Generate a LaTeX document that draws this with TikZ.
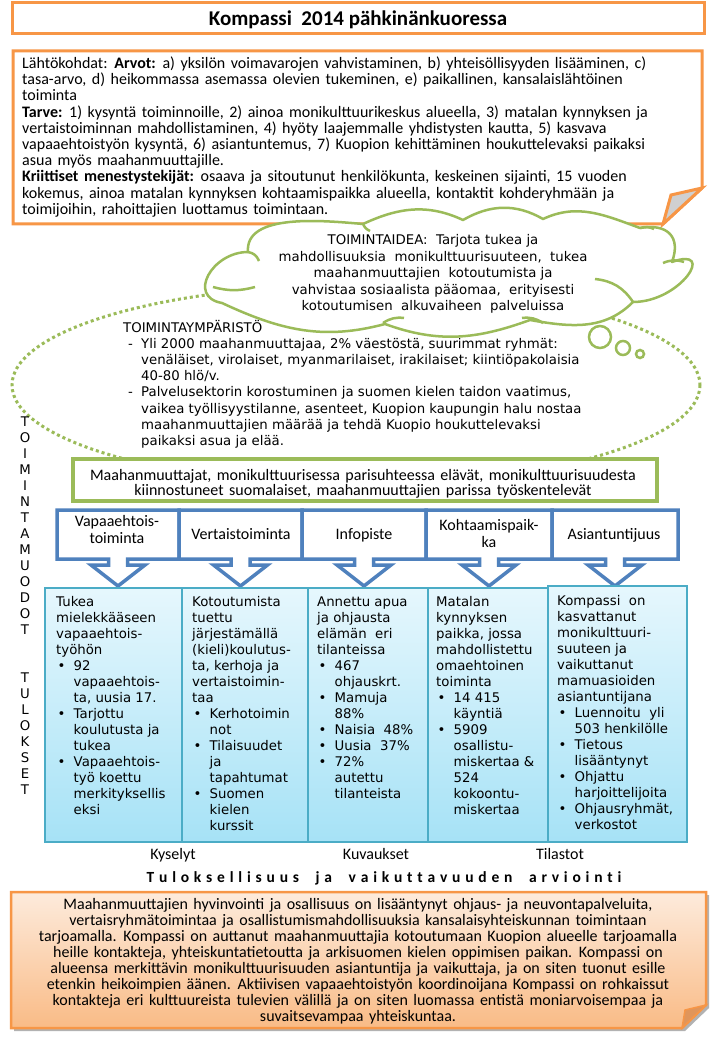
\documentclass[tikz,border=0pt]{standalone}
\usepackage{fontspec}
\usetikzlibrary{calc}
\setmainfont{Carlito}
\newfontfamily\verd{DejaVu Sans}
\newfontfamily\calfont{Carlito}
\definecolor{korange}{HTML}{F79646}
\definecolor{kgreen}{HTML}{9BBB59}
\definecolor{kblue}{HTML}{4F81BD}
\definecolor{kcyan}{HTML}{4BACC6}
\definecolor{cyantop}{HTML}{E6F7FD}
\definecolor{cyanbot}{HTML}{A6E2F6}
\definecolor{peachtop}{HTML}{FDEBDC}
\definecolor{peachbot}{HTML}{F9BB86}
\definecolor{foldor}{HTML}{E0955A}
\definecolor{foldgray}{HTML}{D0D0D0}
\newcommand\bl{\makebox[17.5pt][l]{\hspace{1.5pt}•}}
\newcommand\ii{\hspace*{17.5pt}}
\newcommand\dl{\makebox[18pt][l]{\hspace{5pt}-}}
\newcommand\widesp{\spaceskip 5.5pt plus 1pt minus 1pt\relax}
\newcommand\wg{\hspace{7pt}}
\def\spr#1{\ifx#1\relax\else#1\hspace{4.8pt}\expandafter\spr\fi}
\tikzset{
  calt/.style={font=\calfont\fontsize{16}{16.2}\selectfont\widesp, inner sep=0},
  verdt/.style={font=\verd\fontsize{13.3}{16}\selectfont, inner sep=0},
  obox/.style={draw=korange, line width=3, fill=white},
  hdr/.style={draw=kblue, line width=3.5, fill=white, line join=miter},
  lowbox/.style={draw=kcyan, line width=1.2, top color=cyantop, bottom color=cyanbot},
  cloudline/.style={draw=kgreen, line width=2.5},
}
\begin{document}
\begin{tikzpicture}[x=1pt,y=-1pt]
\useasboundingbox[fill=white] (0,0) rectangle (720,1040);

% title
\draw[obox] (12,3) rectangle (704,34);
\node[font=\calfont\bfseries\fontsize{21}{21}\selectfont, anchor=base, inner sep=0] (title) at (358,25.5) {Kompassi\ \ 2014 pähkinänkuoressa};

% top box with folded corner (base anchor = last line)
\draw[obox, line join=miter] (13,51) -- (702,51) -- (702,188) -- (663,224) -- (13,224) -- cycle;
\draw[draw=korange, line width=3, fill=foldgray, line join=miter] (702,188) -- (671,195) -- (663,224) -- cycle;
\node[calt, align=left, anchor=base west] (topt) at (22,214.3) {%
Lähtökohdat: \textbf{Arvot:} a) yksilön voimavarojen vahvistaminen, b) yhteisöllisyyden lisääminen, c)\\
tasa-arvo, d) heikommassa asemassa olevien tukeminen, e) paikallinen, kansalaislähtöinen\\
toiminta\\
\textbf{Tarve:} 1) kysyntä toiminnoille, 2) ainoa monikulttuurikeskus alueella, 3) matalan kynnyksen ja\\
vertaistoiminnan mahdollistaminen, 4) hyöty laajemmalle yhdistysten kautta, 5) kasvava\\
vapaaehtoistyön kysyntä, 6) asiantuntemus, 7) Kuopion kehittäminen houkuttelevaksi paikaksi\\
asua myös maahanmuuttajille.\\
\textbf{Kriittiset menestystekijät:} osaava ja sitoutunut henkilökunta, keskeinen sijainti, 15 vuoden\\
kokemus, ainoa matalan kynnyksen kohtaamispaikka alueella, kontaktit kohderyhmään ja\\
toimijoihin, rahoittajien luottamus toimintaan.};

% dotted environment ellipse
\draw[kgreen, line width=3, dash pattern=on 3pt off 3pt] (356,385) ellipse [x radius=344, y radius=100];

% environment text
\node[verdt, font=\verd\fontsize{13.3}{16.2}\selectfont, align=left, anchor=base west] (env) at (123,445.4) {%
TOIMINTAYMPÄRISTÖ\\
\dl Yli 2000 maahanmuuttajaa, 2\% väestöstä, suurimmat ryhmät:\\
\hspace*{18pt}venäläiset, virolaiset, myanmarilaiset, irakilaiset; kiintiöpakolaisia\\
\hspace*{18pt}40-80 hlö/v.\\
\dl Palvelusektorin korostuminen ja suomen kielen taidon vaatimus,\\
\hspace*{18pt}vaikea työllisyystilanne, asenteet, Kuopion kaupungin halu nostaa\\
\hspace*{18pt}maahanmuuttajien määrää ja tehdä Kuopio houkuttelevaksi\\
\hspace*{18pt}paikaksi asua ja elää.};

% cloud
\coordinate (cA) at (248,252);
\coordinate (cB) at (363,224);
\coordinate (cC) at (463,220);
\coordinate (cD) at (543,219);
\coordinate (cE) at (640,228);
\coordinate (cF) at (672,262);
\coordinate (cG) at (633,302);
\coordinate (cH) at (530,320);
\coordinate (cI) at (385,324);
\coordinate (cJ) at (222,303);
\path[cloudline, fill=white, line join=round]
  (cA) to[out=95, in=175, looseness=0.85] (cB)
       to[out=25, in=155] (cC)
       to[out=30, in=150] (cD)
       to[out=25, in=160] (cE)
       to[out=10, in=70, looseness=1.5] (cF)
       to[out=20, in=0, looseness=2.2] (cG)
       to[out=-135, in=-10] (cH)
       to[out=-160, in=-20] (cI)
       to[out=-165, in=-25] (cJ)
       to[out=170, in=180, looseness=1.6] (cA) -- cycle;
% inner arcs of the cloud
\draw[cloudline] (cA) to[bend left=30] (259,261);
\draw[cloudline] (213,287) to[bend right=15] (255,287);
\draw[cloudline] (595,279) to[bend left=25] (cG);
\draw[cloudline] (663,263) to[bend left=20] (684,262);
\draw[cloudline] (522,318) to[bend left=20] (543,323);
\draw[cloudline] (383,323) to[bend left=20] (404,318);
\draw[cloudline] (cE) to[bend left=20] (654,229);
\draw[cloudline] (cB) to[bend right=20] (370,231);
\draw[cloudline, fill=white] (600,337) circle [radius=11];
\draw[cloudline, fill=white] (623,348) circle [radius=7];
\draw[cloudline, fill=white] (640,354) circle [radius=4];
\node[verdt, font=\verd\fontsize{13.3}{16.5}\selectfont, align=center, anchor=base] (idea) at (433,310.7) {%
TOIMINTAIDEA:\ \ Tarjota tukea ja\\
mahdollisuuksia\ \ monikulttuurisuuteen,\ \ tukea\\
maahanmuuttajien\ \ kotoutumista ja\\
vahvistaa sosiaalista pääomaa,\ \ erityisesti\\
kotoutumisen\ \ alkuvaiheen\ \ palveluissa};

% left vertical labels
\node[verdt, align=center, anchor=base] (modes) at (25,634) {T\\O\\I\\M\\I\\N\\T\\A\\M\\U\\O\\D\\O\\T};
\node[verdt, align=center, anchor=base] (outc) at (25,794) {T\\U\\L\\O\\K\\S\\E\\T};

% target group box
\draw[draw=kgreen, line width=3.5, fill=white] (73,459) rectangle (657,501);
\node[font=\calfont\fontsize{16}{15.5}\selectfont\widesp, inner sep=0, align=center, anchor=base] (grp) at (363,495.5) {%
Maahanmuuttajat, monikulttuurisessa parisuhteessa elävät, monikulttuurisuudesta\\
kiinnostuneet suomalaiset, maahanmuuttajien parissa työskentelevät};

% header boxes with down arrows
\foreach \a/\b in {57/179, 179/302, 302/426, 426/552, 552/678}{
  \pgfmathsetmacro\c{(\a+\b)/2}
  \draw[hdr] (\a,510) -- (\b,510) -- (\b,559) -- ({\c+9.5},559) -- ({\c+9.5},565) -- ({\c+27},565)
     -- (\c,586) -- ({\c-27},565) -- ({\c-9.5},565) -- ({\c-9.5},559) -- (\a,559) -- cycle;
}
\node[calt, align=center, anchor=base] (h1) at (117,543) {Vapaaehtois-\\toiminta};
\node[calt, anchor=base] (h2) at (241,539) {Vertaistoiminta};
\node[calt, anchor=base] (h3) at (364,539) {Infopiste};
\node[calt, align=center, anchor=base] (h4) at (489,547) {Kohtaamispaik-\\ka};
\node[calt, anchor=base] (h5) at (614,539) {Asiantuntijuus};

% result boxes
\path[lowbox] (45,588) rectangle (182,842);
\path[lowbox] (182,588) rectangle (308,842);
\path[lowbox] (308,588) rectangle (428,842);
\path[lowbox] (428,588) rectangle (548,842);
\path[lowbox] (548,586) rectangle (687,842);

\node[verdt, align=left, anchor=base west] (r1) at (56,814) {%
Tukea\\mielekkääseen\\vapaaehtois-\\työhön\\
\bl 92\\\ii vapaaehtois-\\\ii ta, uusia 17.\\
\bl Tarjottu\\\ii koulutusta ja\\\ii tukea\\
\bl Vapaaehtois-\\\ii työ koettu\\\ii merkityksellis\\\ii eksi};
\node[verdt, align=left, anchor=base west] (r2) at (192,830) {%
Kotoutumista\\tuettu\\järjestämällä\\(kieli)koulutus-\\ta, kerhoja ja\\vertaistoimin-\\taa\\
\bl Kerhotoimin\\\ii not\\
\bl Tilaisuudet\\\ii ja\\\ii tapahtumat\\
\bl Suomen\\\ii kielen\\\ii kurssit};
\node[verdt, align=left, anchor=base west] (r3) at (317,798) {%
Annettu apua\\ja ohjausta\\elämän\ \ eri\\tilanteissa\\
\bl 467\\\ii ohjauskrt.\\
\bl Mamuja\\\ii 88\%\\
\bl Naisia\ \ 48\%\\
\bl Uusia\ \ 37\%\\
\bl 72\%\\\ii autettu\\\ii tilanteista};
\node[verdt, align=left, anchor=base west] (r4) at (436,814) {%
Matalan\\kynnyksen\\paikka, jossa\\mahdollistettu\\omaehtoinen\\toiminta\\
\bl 14 415\\\ii käyntiä\\
\bl 5909\\\ii osallistu-\\\ii miskertaa \&\\\ii 524\\\ii kokoontu-\\\ii miskertaa};
\node[verdt, align=left, anchor=base west] (r5) at (557,829) {%
Kompassi\ \ on\\kasvattanut\\monikulttuuri-\\suuteen ja\\vaikuttanut\\mamuasioiden\\asiantuntijana\\
\bl Luennoitu\ \ yli\\\ii 503 henkilölle\\
\bl Tietous\\\ii lisääntynyt\\
\bl Ohjattu\\\ii harjoittelijoita\\
\bl Ohjausryhmät,\\\ii verkostot};

% evaluation methods
\node[calt, anchor=base] (m1) at (173,859) {Kyselyt};
\node[calt, anchor=base] (m2) at (376,859) {Kuvaukset};
\node[calt, anchor=base] (m3) at (560,859) {Tilastot};
\node[font=\calfont\bfseries\fontsize{15.5}{16}\selectfont, anchor=base, inner sep=0] (evh) at (384,882)
  {\spr Tuloksellisuus\wg ja\wg vaikuttavuuden\wg arviointi\relax};

% bottom summary box
\fill[black!30] (14,895) -- (709,895) -- (709,1008) -- (685,1031) -- (14,1031) -- cycle;
\path[draw=korange, line width=2.5, top color=peachtop, bottom color=peachbot, line join=miter]
  (11,892) -- (706,892) -- (706,1005) -- (682,1028) -- (11,1028) -- cycle;
\draw[draw=korange, line width=1.5, fill=foldor, line join=miter] (706,1005) -- (685,1010) -- (682,1028) -- cycle;
\node[font=\calfont\fontsize{16}{16}\selectfont\widesp, inner sep=0, align=center, anchor=base] (sum) at (358,1021.5) {%
Maahanmuuttajien hyvinvointi ja osallisuus on lisääntynyt ohjaus- ja neuvontapalveluita,\\
vertaisryhmätoimintaa ja osallistumismahdollisuuksia kansalaisyhteiskunnan toimintaan\\
tarjoamalla. Kompassi on auttanut maahanmuuttajia kotoutumaan Kuopion alueelle tarjoamalla\\
heille kontakteja, yhteiskuntatietoutta ja arkisuomen kielen oppimisen paikan. Kompassi on\\
alueensa merkittävin monikulttuurisuuden asiantuntija ja vaikuttaja, ja on siten tuonut esille\\
etenkin heikoimpien äänen. Aktiivisen vapaaehtoistyön koordinoijana Kompassi on rohkaissut\\
kontakteja eri kulttuureista tulevien välillä ja on siten luomassa entistä moniarvoisempaa ja\\
suvaitsevampaa yhteiskuntaa.};
\end{tikzpicture}
\end{document}
